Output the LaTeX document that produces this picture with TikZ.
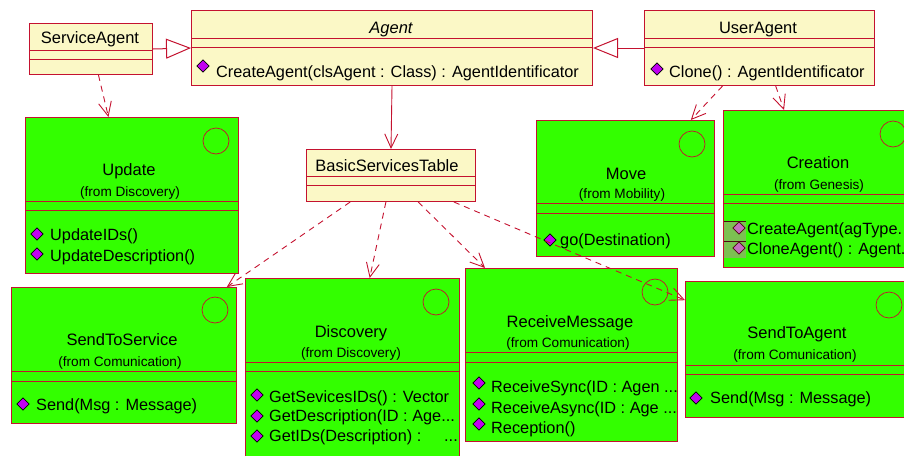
\documentclass[tikz,border=0pt]{standalone}
\usepackage{fontspec}
\setmainfont{Liberation Sans}
\usetikzlibrary{arrows.meta, positioning, shapes.geometric, calc}

\definecolor{umlred}{HTML}{C4122F}
\definecolor{umlgreen}{HTML}{33FF00}
\definecolor{umlyellow}{HTML}{FBF8C6}
\definecolor{umlpurple}{HTML}{C000F0}
\definecolor{umlpale}{HTML}{C46CC0}
\definecolor{umlshade}{HTML}{7CC052}

\tikzset{
    plainclass/.style={draw=umlred, line width=1pt, fill=umlyellow, anchor=north west, inner sep=0pt},
    boundary/.style={draw=umlred, line width=1pt, fill=umlgreen, anchor=north west, inner sep=0pt},
    part/.style={draw=umlred, line width=0.9pt},
    marker/.style={circle, draw=umlred, line width=0.7pt, minimum size=26pt, inner sep=0pt},
    classname/.style={anchor=base, inner sep=0pt, font=\fontsize{16.5}{18}\selectfont},
    fromname/.style={anchor=base, inner sep=0pt, font=\fontsize{13.6}{15}\selectfont},
    method/.style={anchor=base west, inner sep=0pt, font=\fontsize{16.3}{18}\selectfont},
    opmark/.style={diamond, draw=black, line width=0.6pt, fill=umlpurple, minimum size=12.5pt, inner sep=0pt},
    opmarkpale/.style={opmark, draw=umlred!40!black, fill=umlpale},
    inherits/.style={draw=umlred, line width=1pt, -{Triangle[open, length=25pt, width=20pt, fill=white]}},
    uses/.style={draw=umlred, line width=0.9pt, -{Straight Barb[length=14pt, width=13pt]}},
    depends/.style={uses, dash pattern=on 6pt off 5pt}
}

\begin{document}
\begin{tikzpicture}[x=1pt, y=-1pt]
    \useasboundingbox (0,0) rectangle (904,455);
    \clip (0,0) rectangle (904,455);

    % ServiceAgent
    \node[plainclass, minimum width=123pt, minimum height=51pt] (serviceagent) at (29,23) {};
    \draw[part] (29,50) -- (152,50);
    \draw[part] (29,59) -- (152,59);
    \node[classname] (serviceagentname) at (90,43) {ServiceAgent};

    % Agent
    \node[plainclass, minimum width=401pt, minimum height=75pt] (agent) at (191,10) {};
    \draw[part] (191,38) -- (592,38);
    \draw[part] (191,47) -- (592,47);
    \node[classname, font=\fontsize{16.5}{18}\selectfont\itshape] (agentname) at (391,33) {Agent};
    \node[opmark] (agentmark) at (203,66) {};
    \node[method] (agentop) at (216,77) {CreateAgent(clsAgent : Class) : AgentIdentificator};

    % UserAgent
    \node[plainclass, minimum width=230pt, minimum height=75pt] (useragent) at (644,10) {};
    \draw[part] (644,38) -- (874,38);
    \draw[part] (644,47) -- (874,47);
    \node[classname] (useragentname) at (758,33) {UserAgent};
    \node[opmark] (useragentmark) at (657,69) {};
    \node[method] (useragentop) at (669,77) {Clone() : AgentIdentificator};

    % BasicServicesTable
    \node[plainclass, minimum width=169pt, minimum height=52pt] (table) at (306,149) {};
    \draw[part] (306,176) -- (475,176);
    \draw[part] (306,185) -- (475,185);
    \node[classname] (tablename) at (387,171) {BasicServicesTable};

    % Update
    \node[boundary, minimum width=213pt, minimum height=156pt] (update) at (25,117) {};
    \draw[part] (25,201) -- (238,201);
    \draw[part] (25,210) -- (238,210);
    \node[marker] (updatemarker) at (216,141) {};
    \node[classname] (updatename) at (129,175) {Update};
    \node[fromname] (updatefrom) at (130,196) {(from Discovery)};
    \node[opmark] (updatemarka) at (37,234) {};
    \node[method] (updateopa) at (50,240) {UpdateIDs()};
    \node[opmark] (updatemarkb) at (37,254) {};
    \node[method] (updateopb) at (50,261) {UpdateDescription()};

    % Move
    \node[boundary, minimum width=178pt, minimum height=136pt] (move) at (536,120) {};
    \draw[part] (536,203) -- (714,203);
    \draw[part] (536,213) -- (714,213);
    \node[marker] (movemarker) at (692,144) {};
    \node[classname] (movename) at (626,179) {Move};
    \node[fromname] (movefrom) at (622,198) {(from Mobility)};
    \node[opmark] (movemark) at (550,240) {};
    \node[method] (moveop) at (560,245) {go(Destination)};

    % Creation
    \node[boundary, minimum width=217pt, minimum height=157pt] (creation) at (723,110) {};
    \draw[part] (723,194) -- (940,194);
    \draw[part] (723,203) -- (940,203);
    \node[marker] (creationmarker) at (893,134) {};
    \node[classname] (creationname) at (818,168) {Creation};
    \node[fromname] (creationfrom) at (819,189) {(from Genesis)};
    \fill[umlshade] (724,221) rectangle (746,258);
    \draw[umlred!40!black, line width=0.6pt] (724,221.5) -- (746,221.5);
    \draw[umlred!40!black, line width=0.6pt] (724,241) -- (746,241);
    \node[opmarkpale] (creationmarka) at (739,228) {};
    \node[method] (creationopa) at (747,234) {CreateAgent(agType.};
    \node[opmarkpale] (creationmarkb) at (739,248) {};
    \node[method] (creationopb) at (747,254) {CloneAgent() : Agent.};

    % SendToService
    \node[boundary, minimum width=225pt, minimum height=136pt] (sendservice) at (11,287) {};
    \draw[part] (11,371) -- (236,371);
    \draw[part] (11,381) -- (236,381);
    \node[marker] (sendservicemarker) at (215,310) {};
    \node[classname] (sendservicename) at (122,345) {SendToService};
    \node[fromname] (sendservicefrom) at (120,366) {(from Comunication)};
    \node[opmark] (sendservicemark) at (23,404) {};
    \node[method] (sendserviceop) at (36,410) {Send(Msg : Message)};

    % Discovery
    \node[boundary, minimum width=214pt, minimum height=200pt] (discovery) at (245,278) {};
    \draw[part] (245,362) -- (459,362);
    \draw[part] (245,371) -- (459,371);
    \node[marker] (discoverymarker) at (436,302) {};
    \node[classname] (discoveryname) at (351,337) {Discovery};
    \node[fromname] (discoveryfrom) at (351,357) {(from Discovery)};
    \node[opmark] (discoverymarka) at (257,395) {};
    \node[method] (discoveryopa) at (269,402) {GetSevicesIDs() : Vector};
    \node[opmark] (discoverymarkb) at (257,416) {};
    \node[method] (discoveryopb) at (269,421) {GetDescription(ID : Age...};
    \node[opmark] (discoverymarkc) at (257,436) {};
    \node[method] (discoveryopc) at (269,441) {GetIDs(Description) :};
    \node[method] (discoveryrest) at (444,441) {...};

    % ReceiveMessage
    \node[boundary, minimum width=212pt, minimum height=173pt] (receive) at (465,268) {};
    \draw[part] (465,352) -- (677,352);
    \draw[part] (465,362) -- (677,362);
    \node[marker] (receivemarker) at (655,292) {};
    \node[classname] (receivename) at (570,327) {ReceiveMessage};
    \node[fromname] (receivefrom) at (568,347) {(from Comunication)};
    \node[opmark] (receivemarka) at (479,383) {};
    \node[method] (receiveopa) at (491,392) {ReceiveSync(ID : Agen ...};
    \node[opmark] (receivemarkb) at (479,404) {};
    \node[method] (receiveopb) at (491,413) {ReceiveAsync(ID : Age ...};
    \node[opmark] (receivemarkc) at (479,424) {};
    \node[method] (receiveopc) at (491,433) {Reception()};

    % SendToAgent
    \node[boundary, minimum width=260pt, minimum height=136pt] (sendagent) at (685,281) {};
    \draw[part] (685,365) -- (945,365);
    \draw[part] (685,374) -- (945,374);
    \node[marker] (sendagentmarker) at (889,305) {};
    \node[classname] (sendagentname) at (797,338) {SendToAgent};
    \node[fromname] (sendagentfrom) at (795,359) {(from Comunication)};
    \node[opmark] (sendagentmark) at (696,398) {};
    \node[method] (sendagentop) at (710,403) {Send(Msg : Message)};

    % Inheritance
    \draw[inherits] (serviceagent.east) -- (agent.west);
    \draw[inherits] (useragent.west) -- (agent.east);

    % Association
    \draw[uses] (agent.south) -- (table.north);

    % Dependencies
    \draw[depends] ($(serviceagent.south west)!.56!(serviceagent.south east)$) -- ($(update.north west)!.39!(update.north east)$);
    \draw[depends] ($(useragent.south west)!.34!(useragent.south east)$) -- ($(move.north west)!.865!(move.north east)$);
    \draw[depends] ($(useragent.south west)!.57!(useragent.south east)$) -- ($(creation.north west)!.28!(creation.north east)$);
    \draw[depends] ($(table.south west)!.26!(table.south east)$) -- ($(sendservice.north west)!.955!(sendservice.north east)$);
    \draw[depends] ($(table.south west)!.47!(table.south east)$) -- ($(discovery.north west)!.58!(discovery.north east)$);
    \draw[depends] ($(table.south west)!.66!(table.south east)$) -- ($(receive.north west)!.094!(receive.north east)$);
    \draw[depends] ($(table.south west)!.87!(table.south east)$) -- ($(sendagent.north west)!.14!(sendagent.south west)$);
\end{tikzpicture}
\end{document}
